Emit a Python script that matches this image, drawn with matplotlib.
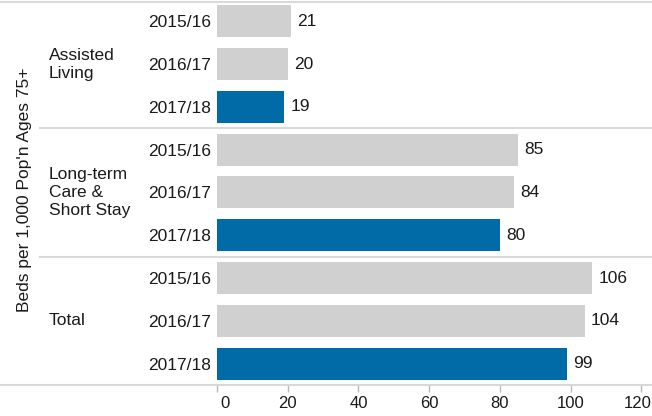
import matplotlib.pyplot as plt
import matplotlib.transforms as mtransforms

plt.rcParams['font.family'] = ['Liberation Sans', 'DejaVu Sans']

groups = ['Assisted\nLiving', 'Long-term\nCare &\nShort Stay', 'Total']
years = ['2015/16', '2016/17', '2017/18']
assisted_living = [21, 20, 19]
long_term_care = [85, 84, 80]
total = [106, 104, 99]

gray = '#D0D0D0'
blue = '#006BA6'
line_col = '#D9D9D9'
txt = '#1a1a1a'

values = assisted_living + long_term_care + total
labels = years * len(groups)
colors = [gray, gray, blue] * len(groups)
ypos = list(range(len(values)))

fig = plt.figure(figsize=(6.52, 4.16), dpi=100)
ax = fig.add_axes([217 / 652, 31 / 416, 435 / 652, 383 / 416])

ax.barh(ypos, values, height=0.75, color=colors)
for y, v in zip(ypos, values):
    ax.annotate(f'{v}', (v, y), xytext=(4.5, 0), textcoords='offset points',
                ha='left', va='center', fontsize=12.5, color=txt)

ax.set_xlim(0, 123)
ax.set_ylim(8.5, -0.45)
ax.set_yticks(ypos)
ax.set_yticklabels(labels, fontsize=12.5, color=txt)
ax.tick_params(axis='y', length=0, pad=4)
ax.set_xticks([0, 20, 40, 60, 80, 100, 120])
ax.tick_params(axis='x', length=5, width=1, color='#BBBBBB', pad=3,
               labelsize=12, labelcolor=txt, direction='out')
for s in ax.spines.values():
    s.set_visible(False)

# keep the end labels inside the plot area
xlabels = ax.get_xticklabels()
xlabels[0].set_transform(xlabels[0].get_transform() +
                         mtransforms.ScaledTranslation(8 / 100, 0, fig.dpi_scale_trans))
xlabels[-1].set_transform(xlabels[-1].get_transform() +
                          mtransforms.ScaledTranslation(-4 / 100, 0, fig.dpi_scale_trans))

# separators between groups, running out into the label column
trans = mtransforms.blended_transform_factory(ax.transAxes, ax.transData)
for y in [2.5, 5.5]:
    ax.plot([-177 / 435, 1], [y, y], transform=trans, color=line_col,
            lw=1.5, clip_on=False)
for y in [-0.45, 8.5]:
    ax.plot([-217 / 435, 1], [y, y], transform=trans, color=line_col,
            lw=1.5, clip_on=False)

# group names beside the middle row of each group
for i, g in enumerate(groups):
    ax.text(-168 / 435, 3 * i + 1, g, transform=trans, ha='left',
            va='center', fontsize=12.5, color=txt, linespacing=1.25)

fig.text(25 / 652, 1 - 190 / 416, "Beds per 1,000 Pop'n Ages 75+",
         rotation=90, ha='center', va='center', fontsize=12.5, color=txt)

fig.savefig('out.png', dpi=100)
